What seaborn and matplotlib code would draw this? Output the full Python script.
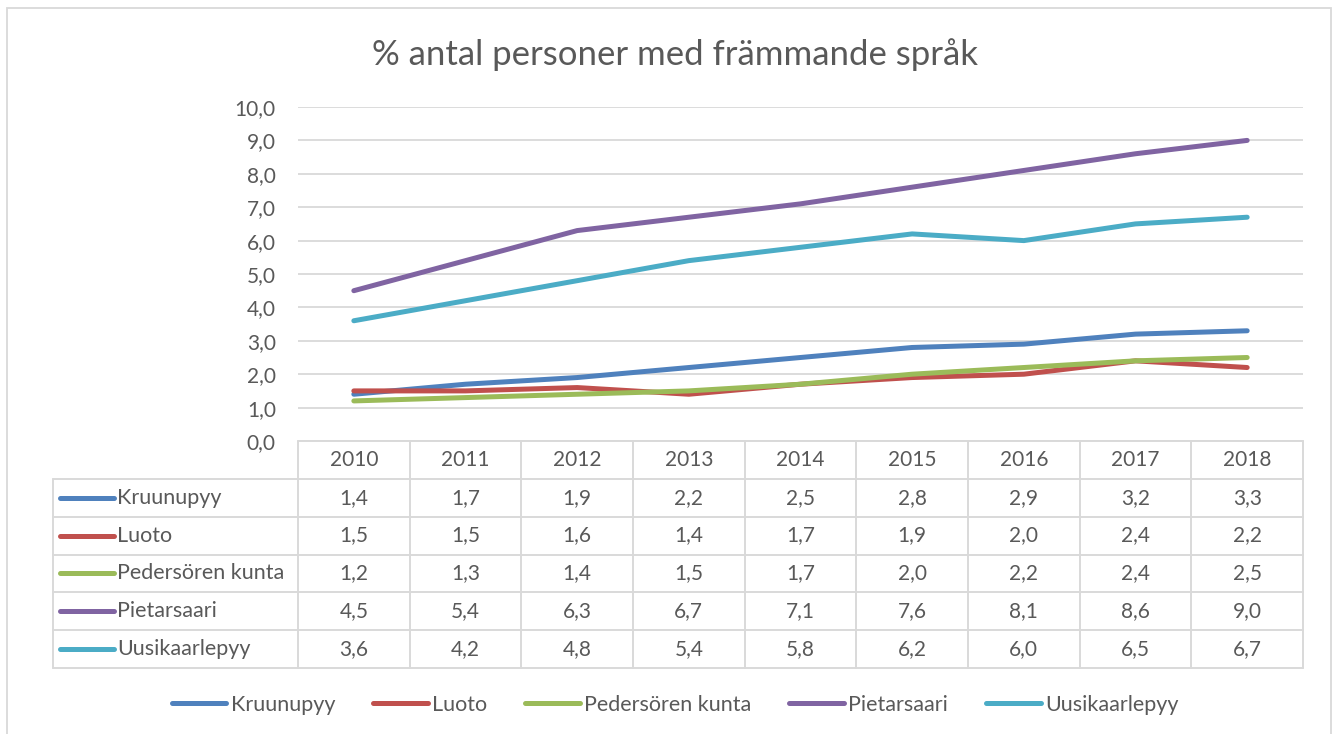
import numpy as np
import pandas as pd
import matplotlib
matplotlib.use("Agg")
import matplotlib.pyplot as plt
import seaborn as sns
from matplotlib.patches import Rectangle
from matplotlib.lines import Line2D

# ---------------- data ----------------
years = ["2010", "2011", "2012", "2013", "2014", "2015", "2016", "2017", "2018"]
kruunupyy = [1.4, 1.7, 1.9, 2.2, 2.5, 2.8, 2.9, 3.2, 3.3]
luoto = [1.5, 1.5, 1.6, 1.4, 1.7, 1.9, 2.0, 2.4, 2.2]
pedersoren = [1.2, 1.3, 1.4, 1.5, 1.7, 2.0, 2.2, 2.4, 2.5]
pietarsaari = [4.5, 5.4, 6.3, 6.7, 7.1, 7.6, 8.1, 8.6, 9.0]
uusikaarlepyy = [3.6, 4.2, 4.8, 5.4, 5.8, 6.2, 6.0, 6.5, 6.7]
series_names = ["Kruunupyy", "Luoto", "Pedersören kunta", "Pietarsaari", "Uusikaarlepyy"]
series_values = [kruunupyy, luoto, pedersoren, pietarsaari, uusikaarlepyy]
colors = ["#4F81BD", "#C0504D", "#9BBB59", "#8064A2", "#4BACC6"]
y_ticks = np.arange(0, 10.01, 1.0)
title = "% antal personer med främmande språk"

rows = []
for name, vals in zip(series_names, series_values):
    for i, (yr, v) in enumerate(zip(years, vals)):
        rows.append({"idx": i, "year": yr, "series": name, "value": v})
df = pd.DataFrame(rows)

# ---------------- style ----------------
sns.set_theme(style="white")
plt.rcParams['font.family'] = ['Lato', 'DejaVu Sans']
TXT = "#595959"
GRID = "#D9D9D9"
FS = 15.5
FSN = 15

W, H = 1333, 734
fig = plt.figure(figsize=(W / 100, H / 100), dpi=100)
fig.patch.set_facecolor("white")


def px(x0, y0, x1, y1):
    return [x0 / W, 1 - y1 / H, (x1 - x0) / W, (y1 - y0) / H]


# outer chart border
fig.patches.append(Rectangle((7 / W, -0.05), (1331 - 7) / W, 1 - 8 / H + 0.05,
                             transform=fig.transFigure, fill=False,
                             edgecolor=GRID, lw=1.3))

# ---------------- plot area ----------------
L, R = 298, 1303
ax = fig.add_axes(px(L, 107, R, 441))
sns.lineplot(data=df, x="idx", y="value", hue="series", palette=colors,
             hue_order=series_names, lw=3.6, ax=ax, legend=False,
             solid_capstyle="round")
ax.set_xlim(-0.5, len(years) - 0.5)
ax.set_ylim(0, 10)
ax.set_yticks(y_ticks)
ax.set_yticklabels([f"{t:.1f}".replace(".", ",") for t in y_ticks],
                   fontsize=FSN, color=TXT)
ax.set_xticks([])
ax.set_xlabel("")
ax.set_ylabel("")
ax.tick_params(axis="y", length=0, pad=16)
ax.grid(axis="y", color=GRID, lw=1.3)
ax.set_axisbelow(True)
for s in ax.spines.values():
    s.set_visible(False)

fig.text(675 / W, 1 - 55 / H, title, ha="center", va="center",
         fontsize=25, color=TXT)

# ---------------- data table ----------------
tax = fig.add_axes(px(L, 441, R, 668))
n = len(years)
nr = len(series_names)
tax.set_xlim(-0.5, n - 0.5)
tax.set_ylim(nr + 1, 0)
tax.axis("off")
colw = (R - L) / n


def dx(p):
    return -0.5 + (p - L) / colw


xl = dx(53)
lk = dict(color=GRID, lw=1.4, clip_on=False)
tax.plot([-0.5, n - 0.5], [0, 0], **lk)
for r in range(1, nr + 2):
    tax.plot([xl, n - 0.5], [r, r], **lk)
for c in range(n + 1):
    tax.plot([-0.5 + c, -0.5 + c], [0, nr + 1], **lk)
tax.plot([xl, xl], [1, nr + 1], **lk)

for i, yr in enumerate(years):
    tax.text(i, 0.5, yr, ha="center", va="center", fontsize=FSN, color=TXT)
for r, (name, vals, col) in enumerate(zip(series_names, series_values, colors)):
    yy = r + 1.5
    for i, v in enumerate(vals):
        tax.text(i, yy, f"{v:.1f}".replace(".", ","), ha="center",
                 va="center", fontsize=FSN, color=TXT)
    tax.plot([dx(60), dx(114)], [yy, yy], color=col, lw=3.6,
             solid_capstyle="round", clip_on=False)
    tax.text(dx(117), yy, name, ha="left", va="center", fontsize=FS,
             color=TXT, clip_on=False)

# ---------------- legend ----------------
handles = [Line2D([0], [0], color=c, lw=3.6, solid_capstyle="round")
           for c in colors]
leg = fig.legend(handles, series_names, loc="center",
                 bbox_to_anchor=(675 / W, 1 - 705 / H), ncol=5, frameon=False,
                 fontsize=FS, handlelength=2.55, handletextpad=0.2,
                 columnspacing=1.75, labelcolor=TXT)

fig.savefig("out.png", dpi=100, facecolor="white")
